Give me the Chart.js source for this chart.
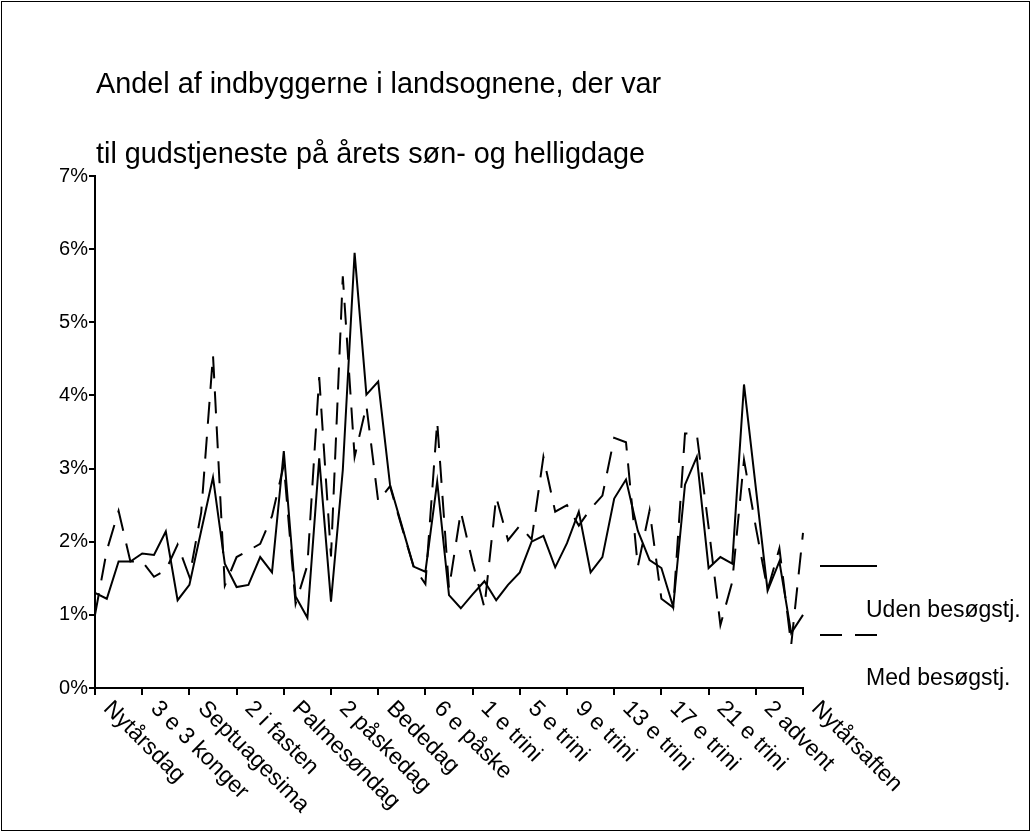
<!DOCTYPE html>
<html>
<head>
<meta charset="utf-8">
<script src="https://cdn.jsdelivr.net/npm/chart.js@4.4.0/dist/chart.umd.min.js"></script>
<style>
html,body{margin:0;padding:0;background:#fff;}
#wrap{position:relative;width:1031px;height:832px;}
</style>
</head>
<body>
<div id="wrap"><canvas id="c" width="1031" height="832"></canvas></div>
<script>
const titleLines = [
  'Andel af indbyggerne i landsognene, der var',
  'til gudstjeneste på årets søn- og helligdage'
];

const categories = [
  'Nytårsdag','Hellig 3 konger','1 e 3 konger','2 e 3 konger',
  '3 e 3 konger','4 e 3 konger','5 e 3 konger','Sidste e 3 konger',
  'Septuagesima','Seksagesima','Fastelavn','1 i fasten',
  '2 i fasten','3 i fasten','Midfaste','Mariæ bebudelse',
  'Palmesøndag','Skærtorsdag','Langfredag','Påskedag',
  '2 påskedag','1 e påske','2 e påske','3 e påske',
  'Bededag','4 e påske','5 e påske','Kristi himmelfart',
  '6 e påske','Pinsedag','2 pinsedag','Trinitatis',
  '1 e trini','2 e trini','3 e trini','4 e trini',
  '5 e trini','6 e trini','7 e trini','8 e trini',
  '9 e trini','10 e trini','11 e trini','12 e trini',
  '13 e trini','14 e trini','15 e trini','16 e trini',
  '17 e trini','18 e trini','19 e trini','20 e trini',
  '21 e trini','22 e trini','Sidste i kirkeåret','1 advent',
  '2 advent','3 advent','4 advent','Juledag',
  'Nytårsaften'
];

const seriesNames = ['Uden besøgstj.', 'Med besøgstj.'];

// percent values
const udenBesog = [
  1.30,1.22,1.73,1.73,1.84,1.82,2.14,1.20,1.41,2.15,
  2.88,1.70,1.38,1.41,1.79,1.58,3.24,1.25,0.96,3.14,
  1.18,2.98,5.95,4.01,4.19,2.78,2.22,1.66,1.59,2.82,
  1.27,1.09,1.28,1.46,1.20,1.41,1.58,2.00,2.08,1.65,
  1.98,2.41,1.58,1.79,2.59,2.85,2.15,1.75,1.64,1.11,
  2.78,3.16,1.64,1.79,1.70,4.15,2.74,1.33,1.73,0.75,
  1.00
];

const medBesog = [
  1.00,1.88,2.42,1.73,1.73,1.52,1.61,1.96,1.52,2.40,
  4.55,1.40,1.79,1.88,1.97,2.35,3.05,1.15,1.68,4.25,
  1.80,5.63,3.16,3.86,2.55,2.76,2.20,1.66,1.42,3.64,
  1.36,2.41,1.72,1.10,2.61,2.02,2.22,2.03,3.16,2.41,
  2.50,2.22,2.45,2.63,3.42,3.36,1.66,2.43,1.22,1.10,
  3.48,3.47,2.20,0.86,1.45,3.12,2.20,1.34,1.91,0.59,
  2.12
];

const yMin = 0, yMax = 7, yStep = 1;
const labelEvery = 4;

const FONT = '"Liberation Sans", Arial, Helvetica, sans-serif';

const framePlugin = {
  id: 'frame',
  beforeDraw(chart) {
    const ctx = chart.ctx;
    ctx.save();
    ctx.fillStyle = '#fff';
    ctx.fillRect(0, 0, chart.width, chart.height);
    ctx.strokeStyle = '#000';
    ctx.lineWidth = 1;
    ctx.strokeRect(1.5, 1.5, chart.width - 3, chart.height - 3);
    ctx.restore();
  }
};

const titlePlugin = {
  id: 'titleText',
  afterDraw(chart) {
    const ctx = chart.ctx;
    ctx.save();
    ctx.fillStyle = '#000';
    ctx.font = '28.8px ' + FONT;
    ctx.textAlign = 'left';
    ctx.textBaseline = 'middle';
    ctx.fillText(titleLines[0], 96, 85);
    ctx.fillText(titleLines[1], 96, 155);
    ctx.restore();
  }
};

const xLabelPlugin = {
  id: 'xLabels',
  afterDraw(chart) {
    const ctx = chart.ctx;
    const xs = chart.scales.x;
    const yAxis = chart.chartArea.bottom;
    ctx.save();
    ctx.fillStyle = '#000';
    ctx.font = '23px ' + FONT;
    ctx.textAlign = 'left';
    ctx.textBaseline = 'middle';
    categories.forEach((lab, i) => {
      if (i % labelEvery !== 0) return;
      const px = xs.getPixelForValue(i);
      ctx.save();
      ctx.translate(px + 12, yAxis + 17);
      ctx.rotate(Math.PI / 4);
      ctx.fillText(lab, 0, 0);
      ctx.restore();
    });
    ctx.restore();
  }
};

const legendPlugin = {
  id: 'customLegend',
  afterDraw(chart) {
    const ctx = chart.ctx;
    const rows = [
      {ds: chart.data.datasets[0], lineY: 566, textY: 611},
      {ds: chart.data.datasets[1], lineY: 635, textY: 679}
    ];
    ctx.save();
    rows.forEach(r => {
      ctx.strokeStyle = r.ds.borderColor;
      ctx.lineWidth = r.ds.borderWidth;
      ctx.setLineDash(r.ds.borderDash || []);
      ctx.beginPath();
      ctx.moveTo(820, r.lineY);
      ctx.lineTo(877, r.lineY);
      ctx.stroke();
      ctx.setLineDash([]);
      ctx.fillStyle = '#000';
      ctx.font = '23px ' + FONT;
      ctx.textAlign = 'left';
      ctx.textBaseline = 'middle';
      ctx.fillText(r.ds.label, 866, r.textY);
    });
    ctx.restore();
  }
};

new Chart(document.getElementById('c'), {
  type: 'line',
  data: {
    labels: categories,
    datasets: [
      {
        label: seriesNames[0],
        data: udenBesog,
        borderColor: '#000',
        borderWidth: 2,
        pointRadius: 0,
        tension: 0,
        fill: false
      },
      {
        label: seriesNames[1],
        data: medBesog,
        borderColor: '#000',
        borderWidth: 2,
        borderDash: [22, 13],
        pointRadius: 0,
        tension: 0,
        fill: false
      }
    ]
  },
  options: {
    responsive: false,
    animation: false,
    devicePixelRatio: 1,
    layout: { padding: { left: 0, top: 176, right: 228, bottom: 0 } },
    plugins: {
      legend: { display: false },
      title: { display: false },
      tooltip: { enabled: false }
    },
    scales: {
      x: {
        type: 'category',
        offset: false,
        grid: {
          display: true, drawOnChartArea: false, drawTicks: true,
          tickLength: 7, color: '#000', lineWidth: 2
        },
        border: { display: true, color: '#000', width: 2 },
        ticks: {
          autoSkip: false, maxRotation: 0, minRotation: 0,
          font: { size: 1 },
          callback: (v, i) => (i % labelEvery === 0 ? '' : null)
        },
        afterFit: s => { s.height = 144; }
      },
      y: {
        min: yMin, max: yMax,
        grid: {
          display: true, drawOnChartArea: false, drawTicks: true,
          tickLength: 6, color: '#000', lineWidth: 2
        },
        border: { display: true, color: '#000', width: 2 },
        ticks: {
          stepSize: yStep,
          color: '#000',
          padding: 1,
          font: { family: FONT, size: 20 },
          callback: v => v + '%'
        },
        afterFit: s => { s.width = 95; }
      }
    }
  },
  plugins: [framePlugin, titlePlugin, xLabelPlugin, legendPlugin]
});
</script>
</body>
</html>
